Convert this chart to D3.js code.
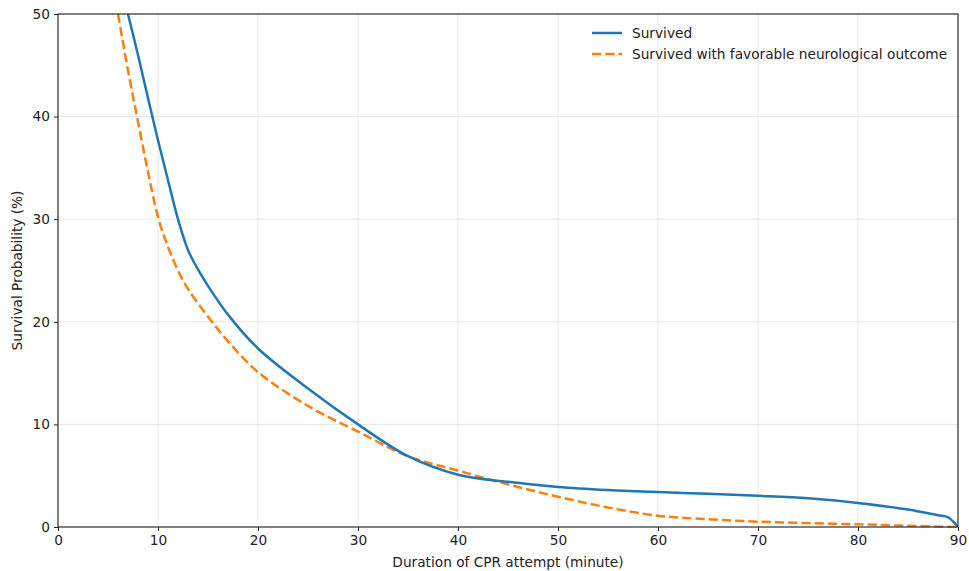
<!DOCTYPE html>
<html>
<head>
<meta charset="utf-8">
<script src="https://cdn.jsdelivr.net/npm/d3@7"></script>
<style>
  body { margin: 0; background: #fff; }
  svg { font-family: 'DejaVu Sans', sans-serif; }
</style>
</head>
<body>
<div id="chart"></div>
<script>
// Survival curves: [minute, percent]
const survived = [
  [7, 50], [8, 46], [9, 41.8], [10, 37.7], [11, 33.8], [12, 30], [13, 27], [14, 25.1],
  [15, 23.5], [17, 20.7], [20, 17.4], [25, 13.5], [30, 10.0], [35, 6.9], [40, 5.1],
  [45, 4.4], [50, 3.9], [55, 3.6], [60, 3.4], [65, 3.25], [70, 3.05], [75, 2.8],
  [80, 2.35], [85, 1.7], [88, 1.15], [89, 0.95], [90, 0]
];
const favorable = [
  [6, 50], [7, 44.5], [8, 39.5], [9, 34.6], [10, 30.2], [11, 27.3], [12, 25], [13, 23.2],
  [15, 20.5], [17, 18.1], [20, 15.1], [25, 11.8], [30, 9.3], [35, 6.9], [40, 5.5],
  [45, 4.15], [50, 2.95], [55, 1.9], [60, 1.1], [65, 0.75], [70, 0.52],
  [75, 0.38], [80, 0.26], [85, 0.12], [90, 0]
];
const xTicks = [0, 10, 20, 30, 40, 50, 60, 70, 80, 90];
const yTicks = [0, 10, 20, 30, 40, 50];
const seriesNames = ['Survived', 'Survived with favorable neurological outcome'];

const W = 969, H = 571;
const margin = { top: 14, right: 11, bottom: 44, left: 58 };
const width = W - margin.left - margin.right;
const height = H - margin.top - margin.bottom;
const fontSize = 13.7;

const xScale = d3.scaleLinear().domain([0, 90]).range([0, width]);
const yScale = d3.scaleLinear().domain([0, 50]).range([height, 0]);

const svg = d3.select('#chart').append('svg')
  .attr('width', W)
  .attr('height', H);

const g = svg.append('g')
  .attr('transform', 'translate(' + margin.left + ',' + margin.top + ')');

// grid
g.append('g').selectAll('line').data(xTicks).enter().append('line')
  .attr('x1', d => xScale(d)).attr('x2', d => xScale(d))
  .attr('y1', 0).attr('y2', height)
  .attr('stroke', '#e6e6e6').attr('stroke-width', 1);
g.append('g').selectAll('line').data(yTicks).enter().append('line')
  .attr('x1', 0).attr('x2', width)
  .attr('y1', d => yScale(d)).attr('y2', d => yScale(d))
  .attr('stroke', '#e6e6e6').attr('stroke-width', 1);

g.append('clipPath').attr('id', 'clip')
  .append('rect').attr('width', width).attr('height', height + 2).attr('y', -1);

const line = d3.line()
  .x(d => xScale(d[0]))
  .y(d => yScale(d[1]))
  .curve(d3.curveCatmullRom.alpha(0.5));

g.append('path')
  .datum(favorable)
  .attr('clip-path', 'url(#clip)')
  .attr('fill', 'none')
  .attr('stroke', '#ff7f0e')
  .attr('stroke-width', 2.5)
  .attr('stroke-dasharray', '9.25,4')
  .attr('d', line);

g.append('path')
  .datum(survived)
  .attr('clip-path', 'url(#clip)')
  .attr('fill', 'none')
  .attr('stroke', '#1f77b4')
  .attr('stroke-width', 2.5)
  .attr('d', line);

// axes
const xAxis = g.append('g')
  .attr('transform', 'translate(0,' + height + ')')
  .call(d3.axisBottom(xScale).tickValues(xTicks).tickSize(4).tickPadding(4));
const yAxis = g.append('g')
  .call(d3.axisLeft(yScale).tickValues(yTicks).tickSize(4).tickPadding(4));
[xAxis, yAxis].forEach(a => {
  a.selectAll('text').attr('font-size', fontSize).attr('fill', '#222')
    .attr('font-family', 'DejaVu Sans, sans-serif');
  a.selectAll('line').attr('stroke', '#222');
  a.select('.domain').remove();
});

// frame
g.append('rect')
  .attr('width', width).attr('height', height)
  .attr('fill', 'none').attr('stroke', '#333').attr('stroke-width', 1.2);

// axis labels
svg.append('text')
  .attr('x', margin.left + width / 2).attr('y', H - 4)
  .attr('text-anchor', 'middle').attr('font-size', fontSize).attr('fill', '#222')
  .text('Duration of CPR attempt (minute)');
svg.append('text')
  .attr('transform', 'translate(22,' + (margin.top + height / 2) + ') rotate(-90)')
  .attr('text-anchor', 'middle').attr('font-size', fontSize).attr('fill', '#222')
  .text('Survival Probability (%)');

// legend
const legend = g.append('g').attr('transform', 'translate(534,19)');
const legendStyles = [
  { color: '#1f77b4', dash: null },
  { color: '#ff7f0e', dash: '9.25,4' }
];
seriesNames.forEach((name, i) => {
  const row = legend.append('g').attr('transform', 'translate(0,' + (i * 21) + ')');
  row.append('line')
    .attr('x1', 0).attr('x2', 30)
    .attr('stroke', legendStyles[i].color).attr('stroke-width', 2.5)
    .attr('stroke-dasharray', legendStyles[i].dash);
  row.append('text')
    .attr('x', 40).attr('y', 4.7)
    .attr('font-size', fontSize).attr('fill', '#222')
    .text(name);
});
</script>
</body>
</html>
